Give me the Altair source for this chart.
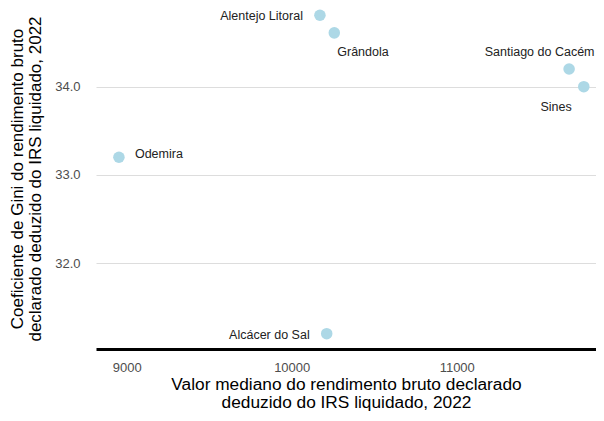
import altair as alt
import pandas as pd

names = ["Alentejo Litoral", "Grândola", "Santiago do Cacém", "Sines", "Odemira", "Alcácer do Sal"]
income = [10171, 10258, 11681, 11770, 8953, 10212]
gini = [34.81, 34.61, 34.20, 34.00, 33.20, 31.20]

df = pd.DataFrame({"name": names, "income": income, "gini": gini})

# label placement (style only): dx, dy, align
label_style = {
    "Alentejo Litoral": (-17, 1, "right"),
    "Grândola": (3, 19.5, "left"),
    "Santiago do Cacém": (-29.5, -17.3, "center"),
    "Sines": (-27.7, 20, "center"),
    "Odemira": (16, -3, "left"),
    "Alcácer do Sal": (-17, 1.7, "right"),
}

FONT = "Liberation Sans"

x = alt.X(
    "income:Q",
    scale=alt.Scale(domain=[8814, 11844], nice=False, zero=False),
    axis=alt.Axis(
        title=["Valor mediano do rendimento bruto declarado", "deduzido do IRS liquidado, 2022"],
        values=[9000, 10000, 11000],
        format="d",
        grid=False,
        ticks=False,
        tickSize=0,
        domain=True,
        domainColor="black",
        domainWidth=3,
        labelPadding=12,
        labelFontSize=13,
        labelColor="#4d4d4d",
        labelFont=FONT,
        titleFont=FONT,
        titleFontSize=17.3,
        titleFontWeight="normal",
        titleColor="black",
        titleLineHeight=18.5,
        titlePadding=1,
    ),
)
y = alt.Y(
    "gini:Q",
    scale=alt.Scale(domain=[31.026, 34.892], nice=False, zero=False),
    axis=alt.Axis(
        title=["Coeficiente de Gini do rendimento bruto", "declarado deduzido do IRS liquidado, 2022"],
        values=[32, 33, 34],
        format=".1f",
        grid=True,
        gridColor="#dddddd",
        gridWidth=1,
        ticks=False,
        tickSize=0,
        domain=False,
        labelPadding=16,
        labelFontSize=13,
        labelColor="#4d4d4d",
        labelFont=FONT,
        titleFont=FONT,
        titleFontSize=17,
        titleFontWeight="normal",
        titleColor="black",
        titleLineHeight=18,
        titlePadding=10,
    ),
)

points = alt.Chart(df).mark_circle(size=133, color="#ADD8E6", opacity=1).encode(x=x, y=y)

layers = [points]
for n, (dx, dy, al) in label_style.items():
    layers.append(
        alt.Chart(df)
        .transform_filter(alt.datum.name == n)
        .mark_text(dx=dx, dy=dy, align=al, baseline="middle", fontSize=12.5, font=FONT, color="#222222")
        .encode(x="income:Q", y="gini:Q", text="name:N")
    )

chart = (
    alt.layer(*layers)
    .properties(
        width=500,
        height=341,
        autosize=alt.AutoSizeParams(type="none"),
        padding={"left": 88, "top": 0, "right": 0, "bottom": 64},
        background="white",
    )
    .configure_view(stroke=None)
)

chart.save("out.html", embed_options={"renderer": "svg", "actions": False})
